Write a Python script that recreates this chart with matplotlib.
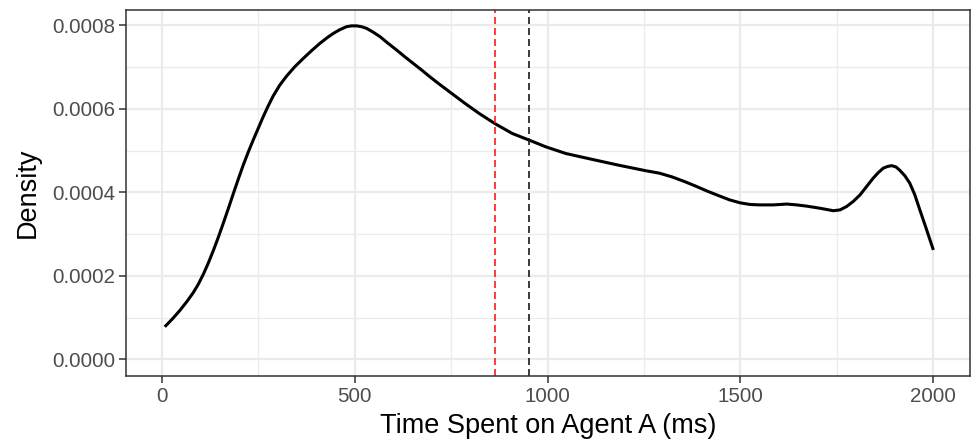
import matplotlib
matplotlib.use('Agg')
import matplotlib.pyplot as plt

# Density curve (x in ms, y = density x 1e-4)
time_ms = [8, 28, 47, 65, 82, 95, 108, 121, 134, 147, 160, 173, 186, 199,
           212, 225, 237, 250, 263, 276, 289, 306, 324, 345, 367, 389, 410,
           428, 445, 462, 479, 492, 505, 518, 531, 548, 566, 587, 609, 630,
           652, 674, 695, 720, 746, 785, 823, 865, 909, 953, 996, 1048, 1116,
           1185, 1254, 1290, 1323, 1355, 1384, 1414, 1444, 1472, 1499, 1525,
           1550, 1585, 1620, 1646, 1672, 1706, 1741, 1758, 1775, 1792, 1810,
           1827, 1844, 1857, 1870, 1881, 1892, 1903, 1913, 1926, 1939, 1952,
           1965, 1982, 2000]
density_e4 = [0.78, 0.97, 1.17, 1.38, 1.60, 1.80, 2.04, 2.31, 2.61, 2.93,
              3.27, 3.62, 3.98, 4.33, 4.67, 4.98, 5.25, 5.53, 5.81, 6.07,
              6.31, 6.57, 6.79, 7.01, 7.21, 7.40, 7.57, 7.70, 7.81, 7.90,
              7.97, 7.99, 7.99, 7.97, 7.93, 7.84, 7.73, 7.57, 7.41, 7.25,
              7.09, 6.93, 6.77, 6.59, 6.41, 6.14, 5.89, 5.64, 5.41, 5.25,
              5.09, 4.93, 4.79, 4.65, 4.52, 4.46, 4.37, 4.26, 4.15, 4.03,
              3.92, 3.82, 3.75, 3.71, 3.70, 3.70, 3.72, 3.70, 3.67, 3.62,
              3.56, 3.58, 3.66, 3.78, 3.94, 4.14, 4.34, 4.47, 4.58, 4.62,
              4.64, 4.61, 4.53, 4.40, 4.22, 3.94, 3.58, 3.12, 2.62]
density = [v * 1e-4 for v in density_e4]

# reference lines (red and black dashed)
red_line_ms = 865
black_line_ms = 953

x_ticks = [0, 500, 1000, 1500, 2000]
y_ticks = [0.0, 0.0002, 0.0004, 0.0006, 0.0008]
y_tick_labels = ['0.0000', '0.0002', '0.0004', '0.0006', '0.0008']

plt.rcParams['font.family'] = ['Liberation Sans', 'DejaVu Sans']

fig = plt.figure(figsize=(9.71, 4.43), dpi=100, facecolor='white')
ax = fig.add_axes([126 / 971, 67 / 443, 844 / 971, 366 / 443])

# ggplot theme_bw style grid
ax.set_xticks(x_ticks)
ax.set_yticks(y_ticks)
ax.set_xticks([250, 750, 1250, 1750], minor=True)
ax.set_yticks([0.0001, 0.0003, 0.0005, 0.0007], minor=True)
ax.grid(True, which='major', color='#EBEBEB', linewidth=1.6)
ax.grid(True, which='minor', color='#EBEBEB', linewidth=0.9)
ax.set_axisbelow(True)
ax.tick_params(which='minor', length=0)

ax.plot(time_ms, density, color='black', linewidth=2.2,
        solid_joinstyle='round', solid_capstyle='butt')
ax.axvline(red_line_ms, color='#FF1A1A', linewidth=1.2, dashes=(4.2, 2.4))
ax.axvline(black_line_ms, color='#1A1A1A', linewidth=1.2, dashes=(4.2, 2.4))

ax.set_xlim(-92.5, 2095)
ax.set_ylim(-0.00004, 0.000837)

ax.set_yticklabels(y_tick_labels)
ax.tick_params(which='major', length=5, width=1.1, color='#333333',
               labelcolor='#4D4D4D', labelsize=14.8, pad=3)

for s in ax.spines.values():
    s.set_color('#333333')
    s.set_linewidth(1.1)

ax.set_xlabel('Time Spent on Agent A (ms)', fontsize=19.5, color='black', labelpad=5)
ax.set_ylabel('Density', fontsize=19.5, color='black', labelpad=8)

plt.savefig('out.png', dpi=100, facecolor='white')
plt.close()
